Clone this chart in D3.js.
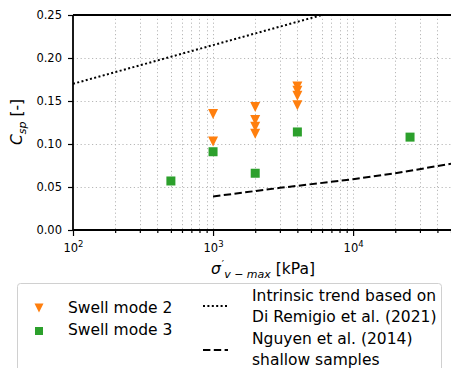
<!DOCTYPE html>
<html>
<head>
<meta charset="utf-8">
<script src="https://cdn.jsdelivr.net/npm/d3@7"></script>
<style>
  body { margin: 0; background: #fff; }
  svg { display: block; font-family: "DejaVu Sans", sans-serif; }
</style>
</head>
<body>
<svg width="451" height="368"></svg>
<script>
// swell mode 2 (orange, down triangles)
const mode2X = [1000, 1000, 2000, 2000, 2000, 2000, 4000, 4000, 4000, 4000];
const mode2Y = [0.135, 0.103, 0.143, 0.128, 0.120, 0.112, 0.167, 0.162, 0.156, 0.145];
// swell mode 3 (green squares)
const mode3X = [500, 1000, 2000, 4000, 25500];
const mode3Y = [0.057, 0.091, 0.066, 0.114, 0.108];
// intrinsic trend (Di Remigio et al. 2021)
const trendX = [100, 1000, 10000];
const trendY = [0.170, 0.215, 0.260];
// Nguyen et al. (2014) shallow samples
const nguyenX = [1000, 3000, 10000, 20000, 50000];
const nguyenY = [0.039, 0.049, 0.059, 0.066, 0.077];

const yTicks = [0, 0.05, 0.10, 0.15, 0.20, 0.25];
const xMajor = [100, 1000, 10000];
const xMajorExp = ["2", "3", "4"];
const legendLeft = [["Swell mode 2"], ["Swell mode 3"]];
const legendRight = [["Intrinsic trend based on", "Di Remigio et al. (2021)"],
                     ["Nguyen et al. (2014)", "shallow samples"]];

(function() {
const svg = d3.select("svg");
const pLeft = 73, pRight = 451, pTop = 15, pBottom = 230;
const orange = "#ff7f0e", green = "#2ca02c";

const x = d3.scaleLog().domain([100, 50000]).range([pLeft, pRight]);
const y = d3.scaleLinear().domain([0, 0.25]).range([pBottom, pTop]);

svg.append("clipPath").attr("id", "plot")
  .append("rect").attr("x", pLeft).attr("y", pTop)
  .attr("width", pRight - pLeft).attr("height", pBottom - pTop);

// grid
const grid = svg.append("g").attr("stroke", "#b8b8b8").attr("stroke-width", 1)
  .attr("stroke-dasharray", "1.2,2.6");
grid.selectAll(".gx").data(x.ticks().filter(d => d > 100 && d < 50000)).join("line")
  .attr("x1", d => Math.round(x(d)) + 0.5).attr("x2", d => Math.round(x(d)) + 0.5)
  .attr("y1", pTop).attr("y2", pBottom);
grid.selectAll(".gy").data(yTicks.slice(1, -1)).join("line")
  .attr("y1", d => Math.round(y(d)) + 0.5).attr("y2", d => Math.round(y(d)) + 0.5)
  .attr("x1", pLeft).attr("x2", pRight);

const plot = svg.append("g").attr("clip-path", "url(#plot)");

function drawLine(xs, ys, dash) {
  const pts = xs.map((v, i) => [v, ys[i]]);
  plot.append("path")
    .attr("d", d3.line().x(d => x(d[0])).y(d => y(d[1]))(pts))
    .attr("fill", "none").attr("stroke", "#000").attr("stroke-width", 2)
    .attr("stroke-dasharray", dash);
}
drawLine(trendX, trendY, "2,2.4");
drawLine(nguyenX, nguyenY, "7.4,3.4");

const tri = "M-5,-5L5,-5L0,5Z";
plot.selectAll(".m2").data(mode2X).join("path")
  .attr("d", tri).attr("fill", orange)
  .attr("transform", (d, i) => `translate(${x(d)},${y(mode2Y[i])})`);
plot.selectAll(".m3").data(mode3X).join("rect")
  .attr("x", d => x(d) - 4.5).attr("y", (d, i) => y(mode3Y[i]) - 4.5)
  .attr("width", 9).attr("height", 9).attr("fill", green);

// axes
const yAxis = svg.append("g").attr("transform", `translate(${pLeft},0)`)
  .call(d3.axisLeft(y).tickValues(yTicks).tickFormat(d3.format(".2f")).tickSize(5).tickPadding(6));
yAxis.selectAll("text").attr("font-size", 11.5).attr("fill", "#000").attr("font-family", "DejaVu Sans");

const xMinor = svg.append("g").attr("transform", `translate(0,${pBottom})`)
  .call(d3.axisBottom(x).tickValues(x.ticks().filter(d => !xMajor.includes(d))).tickSize(3).tickFormat(""));
const xAxis = svg.append("g").attr("transform", `translate(0,${pBottom})`)
  .call(d3.axisBottom(x).tickValues(xMajor).tickSize(6).tickFormat(""));
[yAxis, xMinor, xAxis].forEach(g => {
  g.select(".domain").remove();
  g.selectAll("line").attr("stroke", "#000").attr("stroke-width", 1.2);
});
xAxis.selectAll(".tick").each(function(d, i) {
  const t = d3.select(this).append("text").attr("y", 22).attr("text-anchor", "middle")
    .attr("fill", "#000").attr("font-size", 11.5).attr("font-family", "DejaVu Sans");
  t.append("tspan").text("10");
  t.append("tspan").attr("font-size", 8.5).attr("dy", -5).text(xMajorExp[i]);
});

// spines
const spines = svg.append("g").attr("stroke", "#000").attr("stroke-width", 1.8);
spines.append("line").attr("x1", pLeft).attr("x2", pRight).attr("y1", pTop).attr("y2", pTop);
spines.append("line").attr("x1", pLeft).attr("x2", pRight).attr("y1", pBottom).attr("y2", pBottom);
spines.append("line").attr("x1", pLeft).attr("x2", pLeft).attr("y1", pTop).attr("y2", pBottom);

// axis labels
const xl = svg.append("text").attr("x", 263).attr("y", 274).attr("text-anchor", "middle")
  .attr("font-size", 15.5).attr("fill", "#000");
xl.append("tspan").attr("font-style", "italic").text("σ");
xl.append("tspan").attr("font-size", 10).attr("dx", 1).attr("dy", -6).text("′");
xl.append("tspan").attr("font-size", 11).attr("dy", 10).attr("font-style", "italic").text("v − max");
xl.append("tspan").attr("dy", -4).text(" [kPa]");

const yl = svg.append("text").attr("transform", "translate(22,122) rotate(-90)")
  .attr("text-anchor", "middle").attr("font-size", 15.5).attr("fill", "#000");
yl.append("tspan").attr("font-style", "italic").text("C");
yl.append("tspan").attr("font-style", "italic").attr("font-size", 11).attr("dy", 4).text("sp");
yl.append("tspan").attr("dy", -4).text(" [-]");

// legend
const lg = svg.append("g").attr("font-size", 15.5).attr("fill", "#000");
lg.append("rect").attr("x", 17.5).attr("y", 283.5).attr("width", 424).attr("height", 100)
  .attr("rx", 3).attr("fill", "#fff").attr("stroke", "#d0d0d0").attr("stroke-width", 1);

lg.append("path").attr("d", tri).attr("fill", orange).attr("transform", "translate(39,308) scale(0.9)");
lg.append("rect").attr("x", 35).attr("y", 327).attr("width", 8).attr("height", 8).attr("fill", green);
legendLeft.forEach((lines, i) => {
  lg.append("text").attr("x", 68).attr("y", 313 + i * 22).text(lines[0]);
});

const handles = [
  { y: 306, dash: "2,2.4" },
  { y: 350, dash: "7.4,3.4" }
];
legendRight.forEach((lines, i) => {
  lg.append("line").attr("x1", 203).attr("x2", 228).attr("y1", handles[i].y).attr("y2", handles[i].y)
    .attr("stroke", "#000").attr("stroke-width", 2).attr("stroke-dasharray", handles[i].dash);
  lines.forEach((s, j) => {
    lg.append("text").attr("x", 252).attr("y", 301 + i * 43 + j * 20.5).text(s);
  });
});
})();
</script>
</body>
</html>
